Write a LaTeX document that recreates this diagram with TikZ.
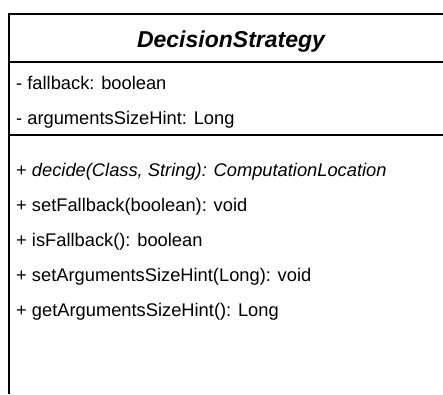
\documentclass[tikz,border=0pt]{standalone}
\usepackage{fontspec}
\setmainfont{Liberation Sans}
\usetikzlibrary{positioning}
\begin{document}
\begin{tikzpicture}[x=1pt, y=-1pt,
      member/.style={anchor=base west, inner sep=0pt, font=\fontsize{18.3}{20}\selectfont},
      classname/.style={anchor=base, inner sep=0pt, font=\fontsize{23}{26}\selectfont\bfseries\itshape},
      rule/.style={line width=1.3pt}]
      \useasboundingbox (0,0) rectangle (443,394);
      % class box, cut off at the right and at the bottom
      \draw[rule] (443,14) -- (9,14) -- (9,394);
      \draw[rule] (9,62) -- (443,62);
      \draw[rule] (9,135) -- (443,135);
      \node[classname] (name) at (231,47) {DecisionStrategy};
      % attributes
      \node[member] (fallback) at (16,89) {- fallback: boolean};
      \node[member] (sizehint) at (16,124) {- argumentsSizeHint: Long};
      % operations
      \node[member] (decide) at (16,176) {+ \textit{decide(Class, String): ComputationLocation}};
      \node[member] (setfallback) at (16,211) {+ setFallback(boolean): void};
      \node[member] (isfallback) at (16,246) {+ isFallback(): boolean};
      \node[member] (setsizehint) at (16,281) {+ setArgumentsSizeHint(Long): void};
      \node[member] (getsizehint) at (16,316) {+ getArgumentsSizeHint(): Long};
    \end{tikzpicture}
\end{document}
